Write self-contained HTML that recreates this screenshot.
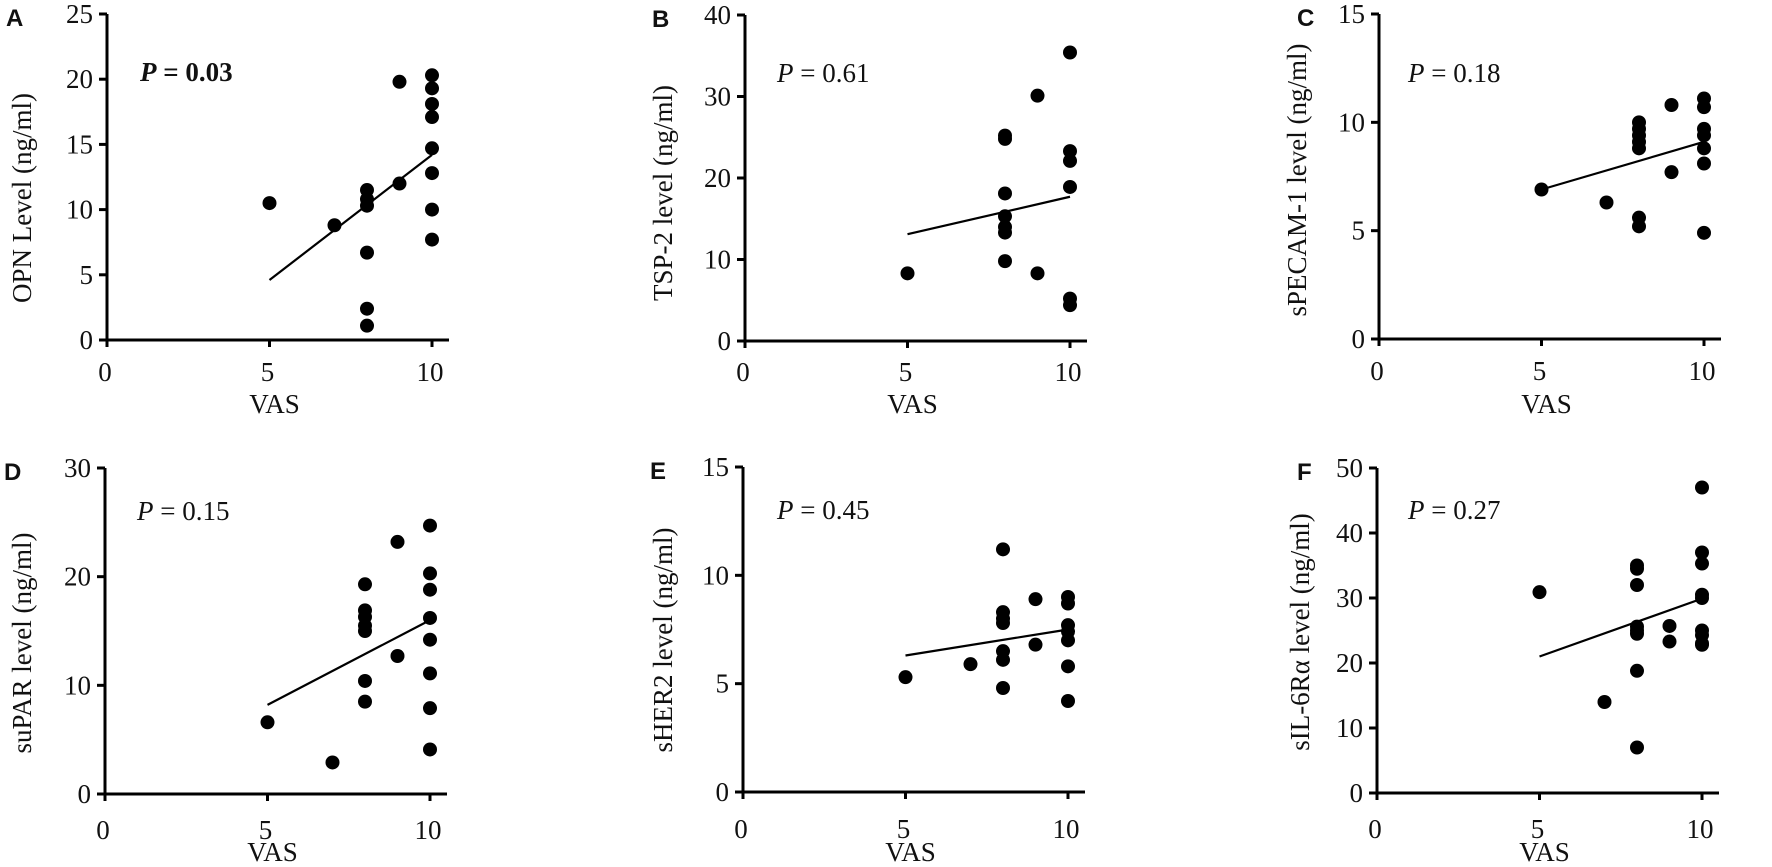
<!DOCTYPE html>
<html><head><meta charset="utf-8">
<style>
body{margin:0;background:#fff;}
svg{display:block;}
text{font-family:"Liberation Serif",serif;fill:#111;}
.lt{font-family:"Liberation Sans",sans-serif;font-weight:bold;}
</style></head>
<body>
<svg id="chart" width="1772" height="867" viewBox="0 0 1772 867"></svg>
<script>
// Data per panel
const panelLetters = ["A","B","C","D","E","F"];
const yTitles = ["OPN Level (ng/ml)","TSP-2 level (ng/ml)","sPECAM-1 level (ng/ml)","suPAR level (ng/ml)","sHER2 level (ng/ml)","sIL-6R\u03B1 level (ng/ml)"];
const pLabels = ["0.03","0.61","0.18","0.15","0.45","0.27"];
const yMaxes = [25,40,15,30,15,50];
const yTickSteps = [5,10,5,10,5,10];
const xTicks = [0,5,10];
const vasA = [5,7,8,8,8,8,8,8,9,9,10,10,10,10,10,10,10,10];
const valA = [10.5,8.8,11.5,10.8,10.3,6.7,2.4,1.1,19.8,12.0,20.3,19.3,18.1,17.1,14.7,12.8,10.0,7.7];
const vasB = [5,8,8,8,8,8,8,8,9,9,10,10,10,10,10,10];
const valB = [8.3,25.2,24.8,18.1,15.3,14.0,13.3,9.8,30.1,8.3,35.4,23.3,22.1,18.9,5.2,4.4];
const vasC = [5,7,8,8,8,8,8,8,8,9,9,10,10,10,10,10,10,10];
const valC = [6.9,6.3,10.0,9.7,9.4,9.1,8.8,5.6,5.2,10.8,7.7,11.1,10.7,9.7,9.4,8.8,8.1,4.9];
const vasD = [5,7,8,8,8,8,8,8,8,9,9,10,10,10,10,10,10,10,10];
const valD = [6.6,2.9,19.3,16.9,16.3,15.5,15.0,10.4,8.5,23.2,12.7,24.7,20.3,18.8,16.2,14.2,11.1,7.9,4.1];
const vasE = [5,7,8,8,8,8,8,8,8,9,9,10,10,10,10,10,10,10];
const valE = [5.3,5.9,11.2,8.3,8.0,7.8,6.5,6.1,4.8,8.9,6.8,9.0,8.7,7.7,7.4,7.0,5.8,4.2];
const vasF = [5,7,8,8,8,8,8,8,8,8,9,9,10,10,10,10,10,10,10,10,10];
const valF = [30.9,14,35,34.5,32,25.6,25,24.5,18.8,7,25.7,23.3,47,37,35.3,30.5,30,25,24.3,23,22.8];
const trendStart = [4.6,13.1,6.9,8.2,6.3,21.0];
const trendEnd = [14.2,17.7,9.1,16.0,7.5,29.9];
const vasAll=[vasA,vasB,vasC,vasD,vasE,vasF];
const valAll=[valA,valB,valC,valD,valE,valF];

const L=[
 {ax:107,top:14,bot:340,titleX:22,titleY:198,letX:6,pX:140,pY:81,tickLblY:381,vasY:413,bold:true},
 {ax:745,top:15,bot:341,titleX:663,titleY:193,letX:652,pX:777,pY:82,tickLblY:381,vasY:413},
 {ax:1379,top:14,bot:339,titleX:1297,titleY:180,letX:1297,pX:1408,pY:82,tickLblY:380,vasY:413},
 {ax:105,top:468,bot:794,titleX:22,titleY:643,letX:4,pX:137,pY:520,tickLblY:839,vasY:861},
 {ax:743,top:467,bot:792,titleX:663,titleY:640,letX:650,pX:777,pY:519,tickLblY:838,vasY:861},
 {ax:1377,top:468,bot:793,titleX:1300,titleY:632,letX:1297,pX:1408,pY:519,tickLblY:838,vasY:861}
];
const NS="http://www.w3.org/2000/svg";
const svg=document.getElementById('chart');
function mk(tag,attrs,parent,txt){const e=document.createElementNS(NS,tag);for(const k in attrs)e.setAttribute(k,attrs[k]);if(txt!==undefined)e.textContent=txt;parent.appendChild(e);return e;}
const pxPerUnit=32.5;
const FS=27;
L.forEach((g,i)=>{
 const grp=mk('g',{},svg);
 
 
 const X=v=>g.ax+v*pxPerUnit;
 const Y=v=>g.bot-(v/yMaxes[i])*(g.bot-g.top);
 const ya=mk('line',{x1:g.ax,y1:g.top,x2:g.ax,y2:g.bot+1.5,stroke:'#000','stroke-width':3},grp);
 
 
 const xa=mk('line',{x1:g.ax-8,y1:g.bot,x2:g.ax+342,y2:g.bot,stroke:'#000','stroke-width':3},grp);
 
 
 for(let v=0;v<=yMaxes[i];v+=yTickSteps[i]){
  mk('line',{x1:g.ax-8,y1:Y(v),x2:g.ax,y2:Y(v),stroke:'#000','stroke-width':3},grp);
  const t=mk('text',{x:g.ax-14,y:Y(v)+9,'text-anchor':'end','font-size':FS},grp,String(v));
  
  
 }
 xTicks.forEach(v=>{
  mk('line',{x1:X(v),y1:g.bot,x2:X(v),y2:g.bot+7,stroke:'#000','stroke-width':3},grp);
  const t=mk('text',{x:X(v)-2,y:g.tickLblY,'text-anchor':'middle','font-size':FS},grp,String(v));
  
  
 });
 const vt=mk('text',{x:X(5)+5,y:g.vasY,'text-anchor':'middle','font-size':FS},grp,'VAS');
 
 
 const yt=mk('text',{x:0,y:0,'text-anchor':'middle','font-size':FS,transform:`translate(${g.titleX+9},${g.titleY}) rotate(-90)`},grp,yTitles[i]);
 
 
 const lt=mk('text',{x:g.letX,y:g.top+12,'font-size':24,class:'lt'},grp,panelLetters[i]);
 
 
 const pt=mk('text',{x:g.pX,y:g.pY,'font-size':FS,'font-weight':g.bold?'bold':'normal'},grp);
 
 
 mk('tspan',{'font-style':'italic'},pt,'P');
 mk('tspan',{},pt,' = '+pLabels[i]);
 const tl=mk('line',{x1:X(5),y1:Y(trendStart[i]),x2:X(10),y2:Y(trendEnd[i]),stroke:'#000','stroke-width':2.2},grp);
 
 
 vasAll[i].forEach((v,j)=>{
  const c=mk('circle',{cx:X(v),cy:Y(valAll[i][j]),r:7,fill:'#000'},grp);
  
  
 });
});
</script>
</body></html>
